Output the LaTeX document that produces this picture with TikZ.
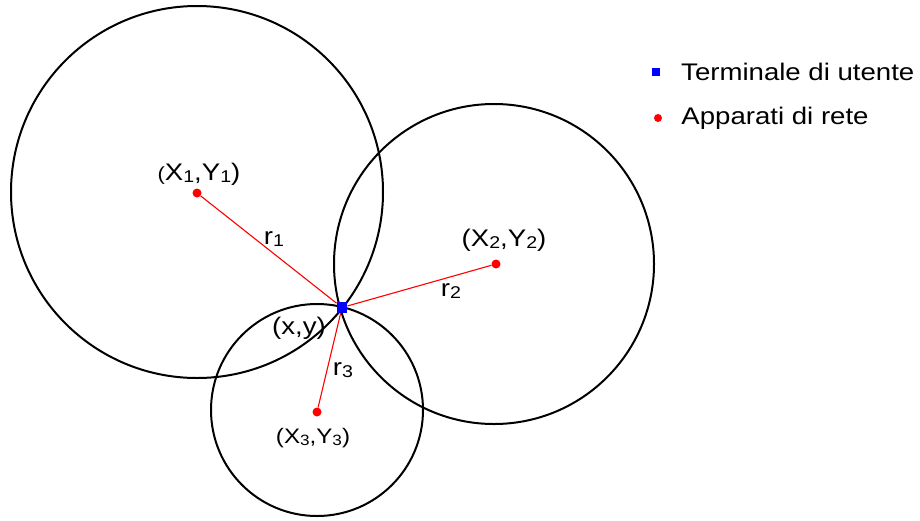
\documentclass[tikz,border=0pt]{standalone}
\usepackage{fontspec}
\setmainfont{Liberation Sans}
\usepackage{xcolor}
\definecolor{termblue}{RGB}{0,0,255}
\definecolor{netred}{RGB}{255,0,0}
\usepackage{tikz}
\usetikzlibrary{positioning}

% subscript as drawn in the figure: large and only a little lowered
\newcommand{\pedice}[1]{\raisebox{-0.11em}{\fontsize{0.71\dimexpr\csname f@size\endcsname pt\relax}{1em}\selectfont #1}}

\tikzset{
  lbl/.style={inner sep=0pt, xscale=1.15, font=\fontsize{24}{28}\selectfont},
  apparato/.style={circle, fill=netred, inner sep=0pt, minimum size=9pt},
  terminale/.style={rectangle, fill=termblue, inner sep=0pt, minimum size=10.5pt},
  raggio/.style={netred, line width=1.1pt},
  cerchio/.style={line width=2pt}
}

\begin{document}
\begin{tikzpicture}[x=1pt,y=-1pt]
\useasboundingbox (0,0) rectangle (920,520);
\begin{scope}
% circles of the three network devices
\foreach \cx/\cy/\rr in {197/192/186, 494/264/160, 317/410/106} {
  \draw[cerchio] (\cx,\cy) circle (\rr pt);
}

\node[terminale] (utente) at (342,307.5) {};

\foreach \i/\cx/\cy in {1/197/193, 2/496/264, 3/317/412} {
  \node[apparato] (app\i) at (\cx,\cy) {};
  \draw[raggio] (app\i) -- (utente);
}

\node[lbl] (lab1) at (199,174) {{\fontsize{19}{22}\selectfont(}X\pedice{1},Y\pedice{1})};
\node[lbl] (lab2) at (504,240) {(X\pedice{2},Y\pedice{2})};
\node[lbl, font=\fontsize{21}{25}\selectfont] (lab3) at (313,438) {(X\pedice{3},Y\pedice{3})};
\node[lbl] (labu) at (299,328) {(x,y)};

\node[lbl] (r1) at (274,239) {r\pedice{1}};
\node[lbl] (r2) at (451,291) {r\pedice{2}};
\node[lbl] (r3) at (343,370) {r\pedice{3}};

% legend
\node[terminale, minimum size=8.5pt] (legT) at (656,72) {};
\node[lbl, right=20.5pt of legT] (legTtxt) {Terminale di utente};
\node[apparato, minimum size=8pt] (legA) at (658,118) {};
\node[lbl, right=19pt of legA] (legAtxt) {Apparati di rete};
\end{scope}
\end{tikzpicture}
\end{document}
